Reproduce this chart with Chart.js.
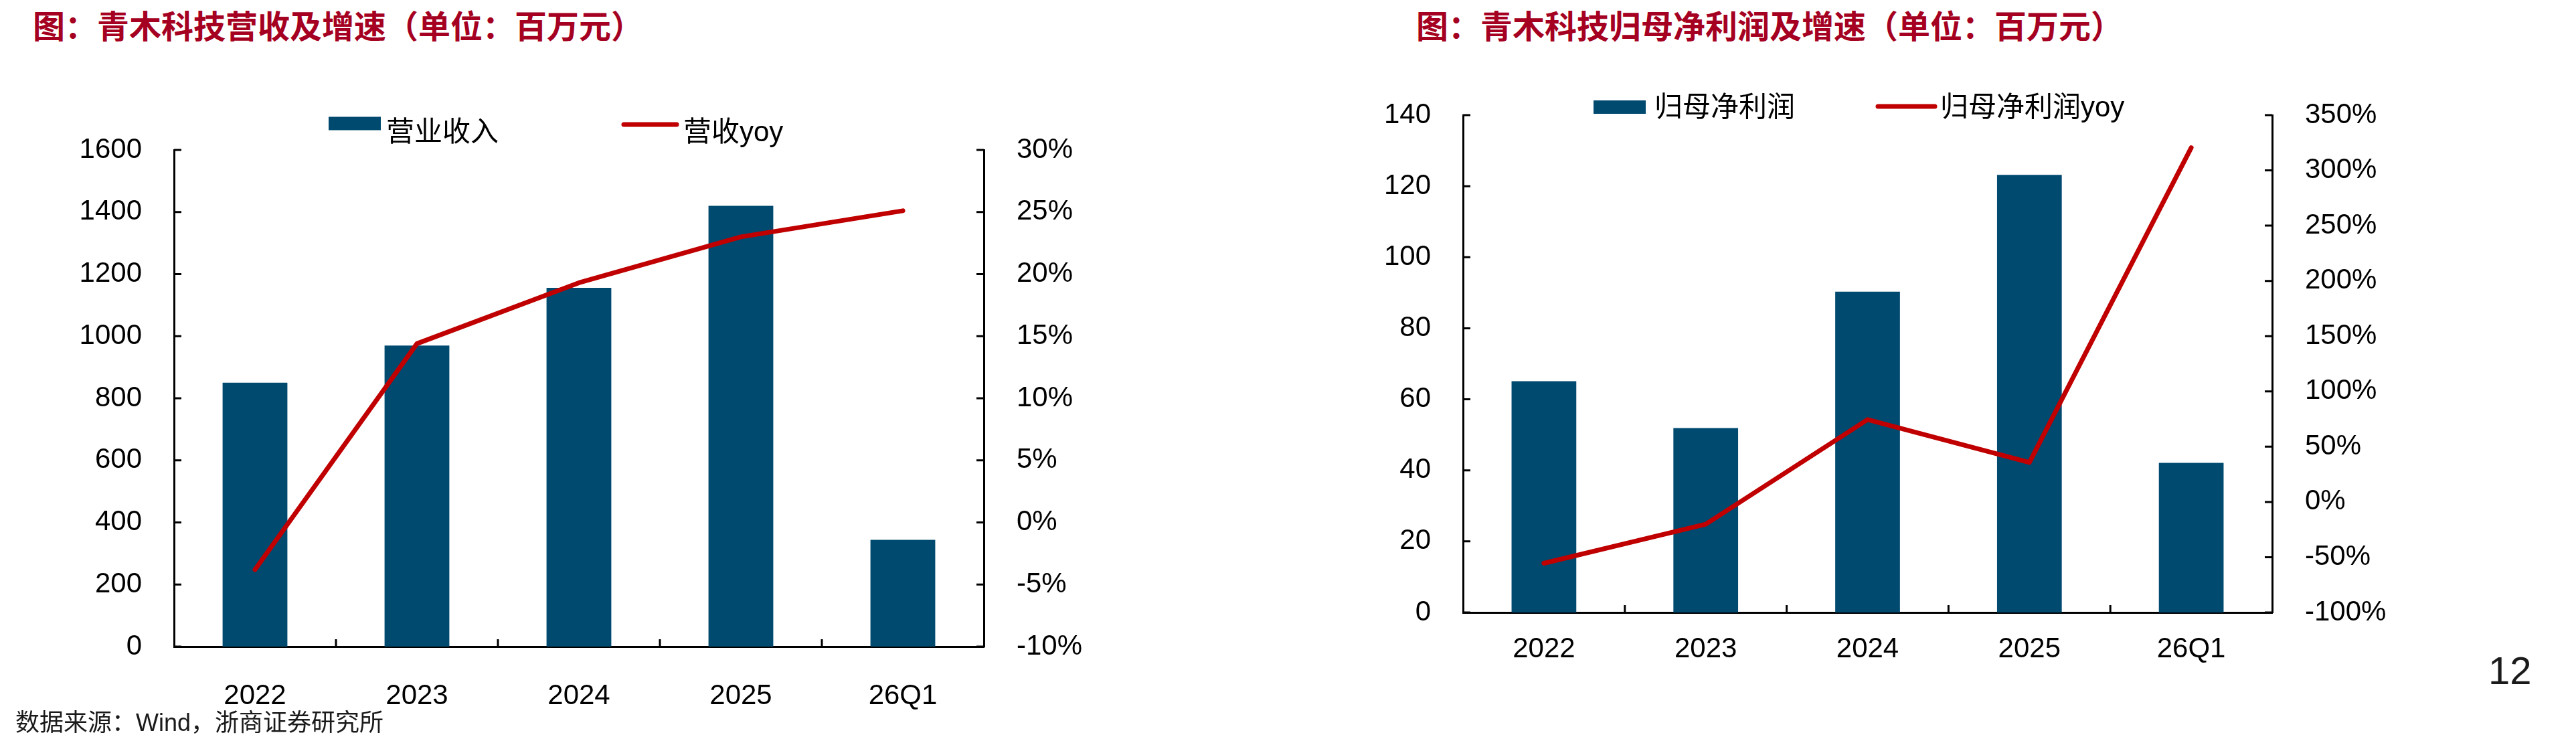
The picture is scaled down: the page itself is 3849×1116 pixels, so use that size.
<!DOCTYPE html>
<html>
<head>
<meta charset="utf-8">
<script src="https://cdn.jsdelivr.net/npm/chart.js@4"></script>
<style>
    body { margin: 0; width: 3849px; height: 1116px; background: #fff; position: relative; overflow: hidden; }
    canvas { position: absolute; }
    .titulo { position: absolute; top: 12px; font: 700 48px/48px 'Noto Sans CJK SC', sans-serif; color: #A50021; white-space: nowrap; z-index: 2; }
    .fonte { position: absolute; left: 23px; top: 1060px; font: 36px/40px 'Liberation Sans', 'Noto Sans CJK SC', sans-serif; color: #1a1a1a; z-index: 2; }
    .pagina { position: absolute; left: 3718px; top: 972px; font: 58px/60px 'Liberation Sans', sans-serif; color: #1a1a1a; z-index: 2; }
</style>
</head>
<body>
<div class="titulo" style="left:49px">图：青木科技营收及增速（单位：百万元）</div>
<div class="titulo" style="left:2116px">图：青木科技归母净利润及增速（单位：百万元）</div>
<canvas id="graficoReceitaCanvas" width="1700" height="1000" style="left:0px;top:120px"></canvas>
<canvas id="graficoLucroCanvas" width="1800" height="1000" style="left:1900px;top:100px"></canvas>
<div class="fonte">数据来源：Wind，浙商证券研究所</div>
<div class="pagina">12</div>
<script>
const categorias = ['2022', '2023', '2024', '2025', '26Q1']

const receita = [850, 970, 1156, 1420, 344]
const receitaYoy = [-3.8, 14.4, 19.3, 23.0, 25.1]
const lucro = [65.1, 51.9, 90.3, 123.2, 42.1]
const lucroYoy = [-55.5, -20.1, 74.5, 35.7, 320.6]

// [min, max, passo]
const eixoReceita = [0, 1600, 200]
const eixoReceitaYoy = [-10, 30, 5]
const eixoLucro = [0, 140, 20]
const eixoLucroYoy = [-100, 350, 50]

const corBarra = '#004A70'
const corLinha = '#C00000'
const corEixo = '#000000'

Chart.defaults.font.family = "'Liberation Sans', 'Noto Sans CJK SC', sans-serif"
Chart.defaults.font.size = 42
Chart.defaults.color = '#000000'

// ticks desenhados para dentro da área do gráfico
const ticksInternos = {
    id: 'ticksInternos',
    afterDatasetsDraw(chart) {
        const ctx = chart.ctx
        const { x, y, y1 } = chart.scales
        const tam = 11
        ctx.save()
        ctx.strokeStyle = corEixo
        ctx.lineWidth = 3
        ctx.beginPath()
        y.ticks.forEach((t, i) => {
            const py = y.getPixelForTick(i)
            ctx.moveTo(x.left, py)
            ctx.lineTo(x.left + tam, py)
        })
        y1.ticks.forEach((t, i) => {
            const py = y1.getPixelForTick(i)
            ctx.moveTo(x.right, py)
            ctx.lineTo(x.right - tam, py)
        })
        for (let i = 1; i < x.ticks.length; i++) {
            const px = x.getPixelForValue(i - 0.5)
            ctx.moveTo(px, y.bottom)
            ctx.lineTo(px, y.bottom - tam)
        }
        ctx.stroke()
        ctx.restore()
    }
}

// legenda posicionada à mão, como no original
const legendaManual = {
    id: 'legendaManual',
    afterDraw(chart, args, opts) {
        const ctx = chart.ctx
        ctx.save()
        ctx.font = `42px ${Chart.defaults.font.family}`
        ctx.textBaseline = 'middle'
        ctx.fillStyle = '#000'
        chart.data.datasets.forEach((ds, i) => {
            const item = opts.itens[i]
            if (ds.type == 'bar') {
                ctx.fillStyle = ds.backgroundColor
                ctx.fillRect(item.x, item.y - 10, item.w, 20)
            } else {
                ctx.strokeStyle = ds.borderColor
                ctx.lineWidth = ds.borderWidth
                ctx.lineCap = 'round'
                ctx.beginPath()
                ctx.moveTo(item.x, item.y)
                ctx.lineTo(item.x + item.w, item.y)
                ctx.stroke()
            }
            ctx.fillStyle = '#000'
            ctx.fillText(ds.label, item.tx, item.ty)
        })
        ctx.restore()
    }
}

function criarGrafico(canvasId, barras, yoy, rotulos, eixoBarra, eixoYoy, area, legenda, paddingX) {
    const canvas = document.getElementById(canvasId)
    const W = canvas.width, H = canvas.height
    return new Chart(canvas, {
        data: {
            labels: categorias,
            datasets: [
                {
                    type: 'bar',
                    label: rotulos[0],
                    data: barras,
                    backgroundColor: corBarra,
                    barPercentage: 0.4,
                    categoryPercentage: 1.0,
                    yAxisID: 'y',
                    order: 1
                },
                {
                    type: 'line',
                    label: rotulos[1],
                    data: yoy,
                    borderColor: corLinha,
                    backgroundColor: corLinha,
                    borderWidth: 7,
                    borderCapStyle: 'round',
                    borderJoinStyle: 'round',
                    pointRadius: 0,
                    tension: 0,
                    yAxisID: 'y1',
                    order: 0
                }
            ]
        },
        options: {
            responsive: false,
            animation: false,
            devicePixelRatio: 1,
            layout: {
                padding: { top: area.top, left: 0, right: 0, bottom: 0 }
            },
            plugins: {
                legend: { display: false },
                tooltip: { enabled: false },
                legendaManual: { itens: legenda }
            },
            scales: {
                x: {
                    grid: { display: false },
                    border: { display: true, color: corEixo, width: 3 },
                    ticks: { padding: paddingX, maxRotation: 0 },
                    afterFit: function (scale) { scale.height = H - area.bottom }
                },
                y: {
                    position: 'left',
                    min: eixoBarra[0],
                    max: eixoBarra[1],
                    ticks: {
                        stepSize: eixoBarra[2],
                        padding: 40,
                        callback: function (value) { return String(value) }
                    },
                    grid: { display: false },
                    border: { display: true, color: corEixo, width: 3 },
                    afterFit: function (scale) { scale.width = area.left }
                },
                y1: {
                    position: 'right',
                    min: eixoYoy[0],
                    max: eixoYoy[1],
                    ticks: {
                        stepSize: eixoYoy[2],
                        padding: 41,
                        callback: function (value) { return value + '%' }
                    },
                    grid: { display: false },
                    border: { display: true, color: corEixo, width: 3 },
                    afterFit: function (scale) { scale.width = W - area.right }
                }
            }
        },
        plugins: [ticksInternos, legendaManual]
    })
}

criarGrafico('graficoReceitaCanvas', receita, receitaYoy, ['营业收入', '营收yoy'],
    eixoReceita, eixoReceitaYoy,
    { left: 260, top: 104, right: 1470, bottom: 846 },
    [{ x: 491, y: 64.5, w: 78, tx: 577, ty: 79 }, { x: 932, y: 66, w: 79, tx: 1021, ty: 79 }],
    41)

criarGrafico('graficoLucroCanvas', lucro, lucroYoy, ['归母净利润', '归母净利润yoy'],
    eixoLucro, eixoLucroYoy,
    { left: 286, top: 72, right: 1495, bottom: 815 },
    [{ x: 481, y: 60, w: 78, tx: 572, ty: 62 }, { x: 906, y: 59, w: 85, tx: 999, ty: 62 }],
    22)
</script>
</body>
</html>
